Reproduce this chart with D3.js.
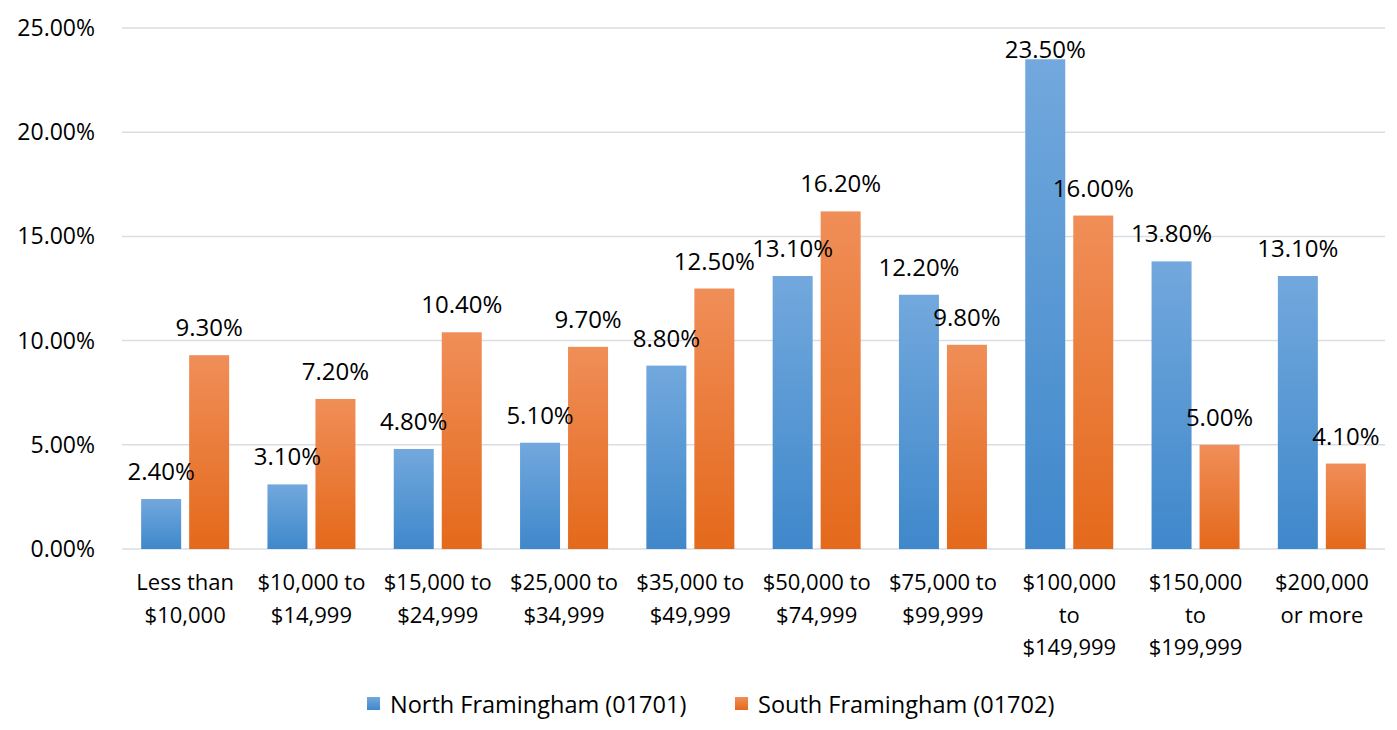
<!DOCTYPE html>
<html><head><meta charset="utf-8">
<script src="https://cdn.jsdelivr.net/npm/d3@7"></script>
<style>body{margin:0;background:#fff;}svg{display:block;font-family:"Open Sans",Lato,sans-serif;}</style>
</head><body>
<svg id="c" width="1397" height="730"></svg>
<script>
const categories = [["Less than","$10,000"],["$10,000 to","$14,999"],["$15,000 to","$24,999"],["$25,000 to","$34,999"],["$35,000 to","$49,999"],["$50,000 to","$74,999"],["$75,000 to","$99,999"],["$100,000","to","$149,999"],["$150,000","to","$199,999"],["$200,000","or more"]];
const north = [2.4,3.1,4.8,5.1,8.8,13.1,12.2,23.5,13.8,13.1];
const south = [9.3,7.2,10.4,9.7,12.5,16.2,9.8,16.0,5.0,4.1];
const seriesNames = ["North Framingham (01701)","South Framingham (01702)"];
const yTicks = [0,5,10,15,20,25];

(function(){
const svg = d3.select("#c");
const defs = svg.append("defs");
function grad(id, t, b){
  const g = defs.append("linearGradient").attr("id",id).attr("x1",0).attr("y1",0).attr("x2",0).attr("y2",1);
  g.append("stop").attr("offset","0%").attr("stop-color",t);
  g.append("stop").attr("offset","100%").attr("stop-color",b);
}
grad("gb","#72a8dd","#3f88cb");
grad("go","#f08e58","#e4691b");

const pl=122, pr=1385, pt=28, pb=549;
const x = d3.scaleBand().domain(d3.range(categories.length)).range([pl,pr]).paddingInner(0).paddingOuter(0);
const y = d3.scaleLinear().domain([0,25]).range([pb,pt]);

svg.append("g").selectAll("line").data(yTicks).join("line")
  .attr("x1",pl).attr("x2",pr).attr("y1",d=>y(d)).attr("y2",d=>y(d))
  .attr("stroke","#d9dde3").attr("stroke-width",1.5);

svg.append("g").selectAll("text").data(yTicks).join("text")
  .attr("x",95).attr("y",d=>y(d)).attr("dy","0.35em").attr("text-anchor","end")
  .attr("font-size",23).attr("fill","#000").text(d=>d.toFixed(2)+"%");

const bw = 40, gap = 8;
const series = [{vals:north,fill:"url(#gb)",off:-(bw+gap)/2},{vals:south,fill:"url(#go)",off:(bw+gap)/2}];
series.forEach(s=>{
  svg.append("g").selectAll("rect").data(s.vals).join("rect")
    .attr("x",(d,i)=>x(i)+x.bandwidth()/2+s.off-bw/2)
    .attr("width",bw)
    .attr("y",d=>y(d)).attr("height",d=>y(0)-y(d))
    .attr("fill",s.fill);
});
series.forEach(s=>{
  svg.append("g").selectAll("text").data(s.vals).join("text")
    .attr("x",(d,i)=>x(i)+x.bandwidth()/2+s.off)
    .attr("y",d=>Math.max(y(d)-19, 58))
    .attr("text-anchor","middle").attr("font-size",24).attr("fill","#000")
    .text(d=>d.toFixed(2)+"%");
});

const xl = svg.append("g");
categories.forEach((lines,i)=>{
  const t = xl.append("text").attr("text-anchor","middle").attr("font-size",22).attr("fill","#000");
  lines.forEach((ln,j)=>{
    t.append("tspan").attr("x",x(i)+x.bandwidth()/2).attr("y",590+j*32.5).text(ln);
  });
});

const legend = svg.append("g");
const lx = [367,735];
seriesNames.forEach((n,i)=>{
  legend.append("rect").attr("x",lx[i]).attr("y",697).attr("width",13).attr("height",13).attr("fill",i?"url(#go)":"url(#gb)");
  legend.append("text").attr("x",lx[i]+23).attr("y",713).attr("font-size",23.5).attr("fill","#000").text(n);
});
})();
</script>
</body></html>
